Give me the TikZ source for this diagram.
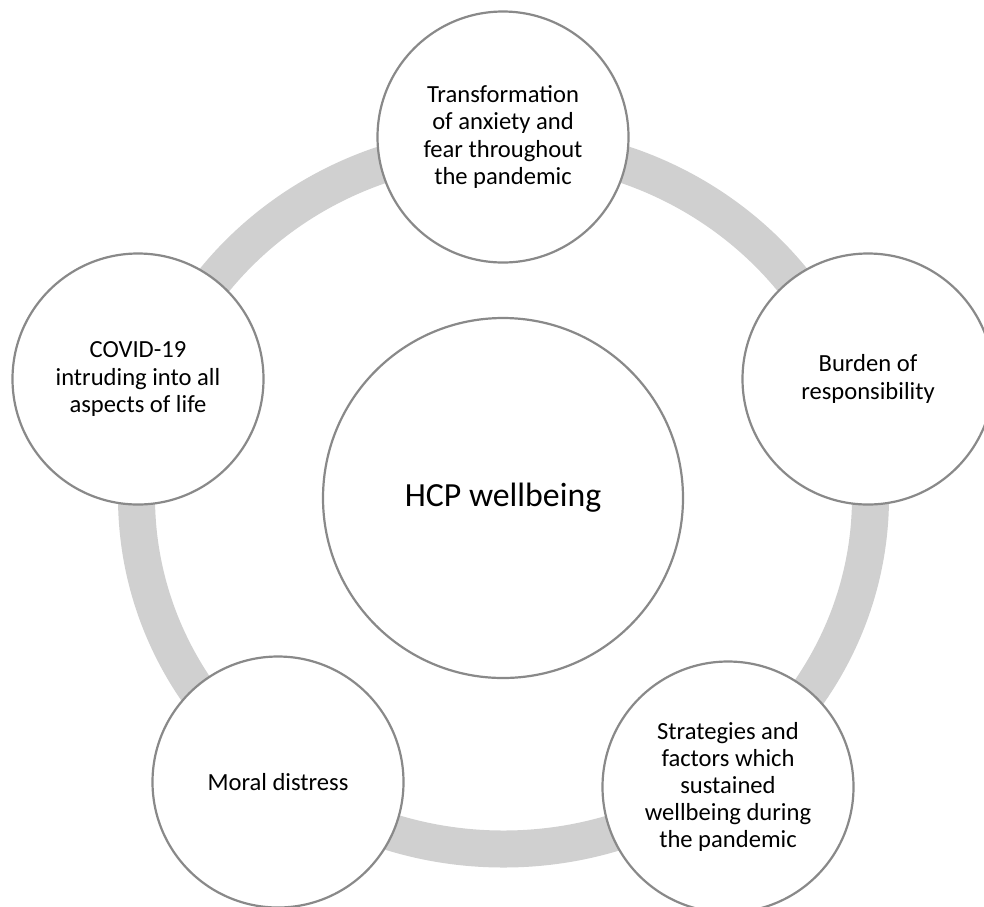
\documentclass[tikz,border=0pt]{standalone}
\usepackage{fontspec}
\setmainfont{Carlito}
\definecolor{ringgray}{HTML}{D0D0D0}
\definecolor{circgray}{HTML}{898989}
\begin{document}
\begin{tikzpicture}[x=1pt,y=-1pt,
  bubble/.style={circle, draw=circgray, line width=2.2pt, fill=white,
    minimum size=251pt, inner sep=0pt, align=center, text=black,
    font=\fontsize{24.6}{27.2}\selectfont},
  hub/.style={bubble, minimum size=360pt, font=\fontsize{33.8}{40}\selectfont},
  ringband/.style={draw=ringgray, line width=37pt}]
\useasboundingbox (0,0) rectangle (984,906);
\fill[white] (0,0) rectangle (984,906);
\clip (0,0) rectangle (984,906);
\draw[ringband] (503.5,497) ellipse [x radius=367pt, y radius=352pt];
\node[hub] (hub) at (503,498) {HCP wellbeing};
\node[bubble] (anx) at (503,137) {Transformation\\of anxiety and\\fear throughout\\the pandemic};
\node[bubble] (bur) at (868,379) {Burden of\\responsibility};
\node[bubble] (str) at (728,787) {Strategies and\\factors which\\sustained\\wellbeing during\\the pandemic};
\node[bubble] (mor) at (278,782) {Moral distress};
\node[bubble] (cov) at (138,379) {COVID-19\\intruding into all\\aspects of life};
\end{tikzpicture}
\end{document}
